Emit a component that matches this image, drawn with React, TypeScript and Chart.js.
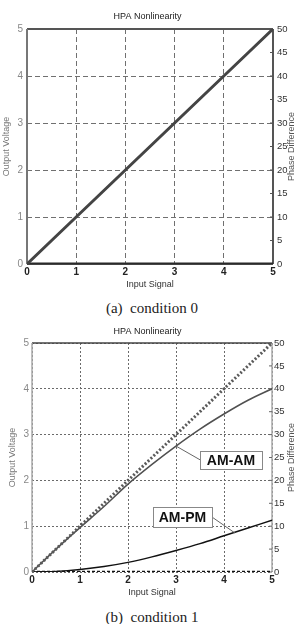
import React, { useEffect, useRef } from "react";
import { Chart, registerables } from "chart.js";

Chart.register(...registerables);

// ---------- data ----------
const inputSignal = [0, 0.5, 1, 1.5, 2, 2.5, 3, 3.5, 4, 4.5, 5];
// condition 0 (ideal, linear amplifier)
const amAmCond0 = [0, 0.5, 1, 1.5, 2, 2.5, 3, 3.5, 4, 4.5, 5];
const amPmCond0 = [0, 0, 0, 0, 0, 0, 0, 0, 0, 0, 0];
// condition 1 (nonlinear amplifier)
const idealAmAm = [0, 0.5, 1, 1.5, 2, 2.5, 3, 3.5, 4, 4.5, 5];
const idealAmPm = [0, 0, 0, 0, 0, 0, 0, 0, 0, 0, 0];
const amAmCond1 = [0, 0.5, 0.97, 1.43, 1.92, 2.35, 2.75, 3.12, 3.45, 3.75, 4.0];
const amPmCond1 = [0, 0.13, 0.55, 1.2, 2.1, 3.3, 4.7, 6.2, 7.9, 9.6, 11.3];

const xTickLabels = ["0", "1", "2", "3", "4", "5"];
const leftTickLabels = ["0", "1", "2", "3", "4", "5"];
const rightTickLabels = ["0", "5", "10", "15", "20", "25", "30", "35", "40", "45", "50"];

const chartTitle = "HPA Nonlinearity";
const xTitle = "Input Signal";
const yTitle = "Output Voltage";
const y2Title = "Phase Difference";
const captions = ["(a)  condition 0", "(b)  condition 1"];
const annotationLabels = ["AM-AM", "AM-PM"];

const FONT = "'Liberation Sans', Arial, sans-serif";

const pts = (ys: number[]) => inputSignal.map((x, i) => ({ x, y: ys[i] }));

type Geo = {
  top: number;
  height: number;
  left: number;
  right: number;
  xAxisH: number;
  titlePad: { top: number; bottom: number };
  xTitlePadBottom: number;
  yTitlePadTop: number;
  leftTickPad: number;
  rightTickPad: number;
  xTickPad: number;
  y2TitleX: number;
};

function makeFramePlugin(variant: number) {
  return {
    id: "frame" + variant,
    beforeDatasetsDraw(chart: any) {
      const { ctx, chartArea: a } = chart;
      ctx.save();
      ctx.setLineDash([]);
      if (variant === 0) {
        ctx.lineWidth = 2;
        ctx.strokeStyle = "#555";
        ctx.beginPath();
        ctx.moveTo(a.left, a.top);
        ctx.lineTo(a.right, a.top);
        ctx.stroke();
        ctx.strokeStyle = "#777";
        ctx.beginPath();
        ctx.moveTo(a.left, a.top);
        ctx.lineTo(a.left, a.bottom);
        ctx.stroke();
        ctx.strokeStyle = "#555";
        ctx.beginPath();
        ctx.moveTo(a.right, a.top);
        ctx.lineTo(a.right, a.bottom);
        ctx.stroke();
        ctx.strokeStyle = "#444";
        ctx.beginPath();
        ctx.moveTo(a.left, a.bottom);
        ctx.lineTo(a.right, a.bottom);
        ctx.stroke();
      } else {
        ctx.lineWidth = 1.5;
        ctx.strokeStyle = "#444";
        ctx.beginPath();
        ctx.moveTo(a.left, a.top);
        ctx.lineTo(a.right, a.top);
        ctx.stroke();
        ctx.lineWidth = 1.5;
        ctx.strokeStyle = "#aaa";
        ctx.beginPath();
        ctx.moveTo(a.left, a.top);
        ctx.lineTo(a.left, a.bottom);
        ctx.moveTo(a.right, a.top);
        ctx.lineTo(a.right, a.bottom);
        ctx.stroke();
      }
      // inward tick marks on the right axis
      const y2 = chart.scales.y2;
      ctx.lineWidth = 1;
      ctx.strokeStyle = variant === 0 ? "#555" : "#666";
      ctx.beginPath();
      y2.ticks.forEach((t: any) => {
        const py = y2.getPixelForValue(t.value);
        ctx.moveTo(a.right - 3, py);
        ctx.lineTo(a.right, py);
      });
      ctx.stroke();
      ctx.restore();
    },
  };
}

function makeRightTitlePlugin(geo: Geo, color: string) {
  return {
    id: "rightTitle",
    afterDraw(chart: any) {
      const { ctx, chartArea: a } = chart;
      ctx.save();
      ctx.translate(geo.y2TitleX, (a.top + a.bottom) / 2);
      ctx.rotate(-Math.PI / 2);
      ctx.font = `9px ${FONT}`;
      ctx.fillStyle = color;
      ctx.textAlign = "center";
      ctx.textBaseline = "middle";
      ctx.fillText(y2Title, 0, 0);
      ctx.restore();
    },
  };
}

const annotationPlugin = {
  id: "annotations",
  afterDatasetsDraw(chart: any) {
    const { ctx } = chart;
    const xs = chart.scales.x;
    const ys = chart.scales.y;
    const X = (v: number) => xs.getPixelForValue(v);
    const Y = (v: number) => ys.getPixelForValue(v);
    ctx.save();
    // leader lines
    ctx.strokeStyle = "#666";
    ctx.lineWidth = 1;
    ctx.beginPath();
    ctx.moveTo(X(3.0), Y(amAmCond1[6]));
    ctx.lineTo(X(3.5), Y(2.45));
    ctx.moveTo(X(3.75), Y(1.2));
    ctx.lineTo(X(4.23), Y(0.85));
    ctx.stroke();
    // boxes
    const boxes = [
      { text: annotationLabels[0], x0: 3.5, x1: 4.79, y0: 2.64, y1: 2.25 },
      { text: annotationLabels[1], x0: 2.52, x1: 3.75, y0: 1.42, y1: 0.98 },
    ];
    boxes.forEach((b) => {
      const l = X(b.x0), r = X(b.x1), t = Y(b.y0), bt = Y(b.y1);
      ctx.fillStyle = "#fff";
      ctx.fillRect(l, t, r - l, bt - t);
      ctx.strokeStyle = "#888";
      ctx.lineWidth = 1;
      ctx.strokeRect(Math.round(l) + 0.5, Math.round(t) + 0.5, Math.round(r - l), Math.round(bt - t));
      ctx.fillStyle = "#111";
      ctx.font = `bold 14px ${FONT}`;
      ctx.textAlign = "center";
      ctx.textBaseline = "middle";
      ctx.fillText(b.text, (l + r) / 2, (t + bt) / 2 + 1);
    });
    ctx.restore();
  },
};

function buildConfig(variant: number, geo: Geo): any {
  const datasets: any[] =
    variant === 0
      ? [
          {
            data: pts(amAmCond0),
            yAxisID: "y",
            borderColor: "#444",
            borderWidth: 3,
            pointRadius: 0,
          },
          {
            data: pts(amPmCond0),
            yAxisID: "y2",
            borderColor: "#2a2a2a",
            borderWidth: 3,
            pointRadius: 0,
          },
        ]
      : [
          {
            data: pts(idealAmAm),
            yAxisID: "y",
            borderColor: "#5a5a5a",
            borderWidth: 3,
            borderDash: [2, 2],
            pointRadius: 0,
          },
          {
            data: pts(amAmCond1),
            yAxisID: "y",
            borderColor: "#505050",
            borderWidth: 1.5,
            pointRadius: 0,
            cubicInterpolationMode: "monotone",
          },
          {
            data: pts(idealAmPm),
            yAxisID: "y2",
            borderColor: "#111",
            borderWidth: 2.5,
            borderDash: [3, 2],
            pointRadius: 0,
          },
          {
            data: pts(amPmCond1),
            yAxisID: "y2",
            borderColor: "#111",
            borderWidth: 1.5,
            pointRadius: 0,
            cubicInterpolationMode: "monotone",
          },
        ];

  const gridColor = variant === 0 ? "#707070" : "#6a6a6a";
  const gridDash = variant === 0 ? [5, 3] : [2, 2];

  return {
    type: "line",
    data: { datasets },
    options: {
      animation: false,
      responsive: false,
      maintainAspectRatio: false,
      layout: { padding: 0 },
      plugins: {
        legend: { display: false },
        tooltip: { enabled: false },
        title: {
          display: true,
          text: chartTitle,
          color: "#222",
          font: { family: FONT, size: 9, weight: "normal" },
          padding: geo.titlePad,
        },
      },
      scales: {
        x: {
          type: "linear",
          min: 0,
          max: 5,
          afterFit: (s: any) => {
            s.height = geo.xAxisH;
          },
          afterBuildTicks: (s: any) => {
            s.ticks = xTickLabels.map((v) => ({ value: Number(v) }));
          },
          ticks: {
            padding: geo.xTickPad,
            color: "#222",
            font: { family: FONT, size: 10, weight: "bold" },
            maxRotation: 0,
            callback: (v: any) => String(v),
          },
          grid: { color: gridColor, lineWidth: 1, drawTicks: false, tickLength: 0 },
          border: { display: false, dash: gridDash },
          title: {
            display: true,
            text: xTitle,
            color: "#333",
            font: { family: FONT, size: 9 },
            padding: { top: 0, bottom: geo.xTitlePadBottom },
          },
        },
        y: {
          type: "linear",
          position: "left",
          min: 0,
          max: 5,
          afterFit: (s: any) => {
            s.width = geo.left;
          },
          afterBuildTicks: (s: any) => {
            s.ticks = leftTickLabels.map((v) => ({ value: Number(v) }));
          },
          ticks: {
            padding: geo.leftTickPad,
            color: "#888",
            font: { family: FONT, size: 10 },
            callback: (v: any) => String(v),
          },
          grid: { color: gridColor, lineWidth: 1, drawTicks: false, tickLength: 0 },
          border: { display: false, dash: gridDash },
          title: {
            display: true,
            text: yTitle,
            color: "#777",
            font: { family: FONT, size: 9 },
            padding: { top: geo.yTitlePadTop, bottom: 0 },
          },
        },
        y2: {
          type: "linear",
          position: "right",
          min: 0,
          max: 50,
          afterFit: (s: any) => {
            s.width = geo.right;
          },
          afterBuildTicks: (s: any) => {
            s.ticks = rightTickLabels.map((v) => ({ value: Number(v) }));
          },
          ticks: {
            padding: geo.rightTickPad,
            color: "#333",
            font: { family: FONT, size: 9.5 },
            callback: (v: any) => String(v),
          },
          grid: { display: false, drawTicks: false },
          border: { display: false },
        },
      },
    },
    plugins:
      variant === 0
        ? [makeFramePlugin(0), makeRightTitlePlugin(geo, "#555")]
        : [makeFramePlugin(1), makeRightTitlePlugin(geo, "#555"), annotationPlugin],
  };
}

const geos: Geo[] = [
  {
    top: 0,
    height: 295,
    left: 27,
    right: 22,
    xAxisH: 31,
    titlePad: { top: 11.6, bottom: 6.6 },
    xTitlePadBottom: 4.6,
    yTitlePadTop: 1.6,
    leftTickPad: 4,
    rightTickPad: 4,
    xTickPad: 2,
    y2TitleX: 292,
  },
  {
    top: 318,
    height: 284,
    left: 32,
    right: 23,
    xAxisH: 30,
    titlePad: { top: 8.6, bottom: 5.6 },
    xTitlePadBottom: 3.6,
    yTitlePadTop: 7.3,
    leftTickPad: 3,
    rightTickPad: 2,
    xTickPad: 2,
    y2TitleX: 292,
  },
];

function HpaChart({ variant }: { variant: number }) {
  const ref = useRef<HTMLCanvasElement | null>(null);
  const geo = geos[variant];
  useEffect(() => {
    if (!ref.current) return;
    const chart = new Chart(ref.current, buildConfig(variant, geo));
    return () => chart.destroy();
  }, [variant]);
  return (
    <div style={{ position: "absolute", left: 0, top: geo.top, width: 295, height: geo.height }}>
      <canvas ref={ref} width={295} height={geo.height} style={{ width: 295, height: geo.height, display: "block" }} />
    </div>
  );
}

const captionTops = [298, 607];

export default function App() {
  return (
    <div
      style={{
        position: "absolute",
        left: 0,
        top: 0,
        width: 295,
        height: 624,
        background: "#fff",
        overflow: "hidden",
      }}
    >
      <HpaChart variant={0} />
      <HpaChart variant={1} />
      {captions.map((c, i) => (
        <div
          key={c}
          style={{
            position: "absolute",
            left: 0,
            width: 304,
            top: captionTops[i],
            height: 20,
            lineHeight: "20px",
            textAlign: "center",
            fontFamily: "'Liberation Serif', 'Times New Roman', serif",
            fontSize: 15,
            color: "#222",
            whiteSpace: "pre",
          }}
        >
          {c}
        </div>
      ))}
    </div>
  );
}
